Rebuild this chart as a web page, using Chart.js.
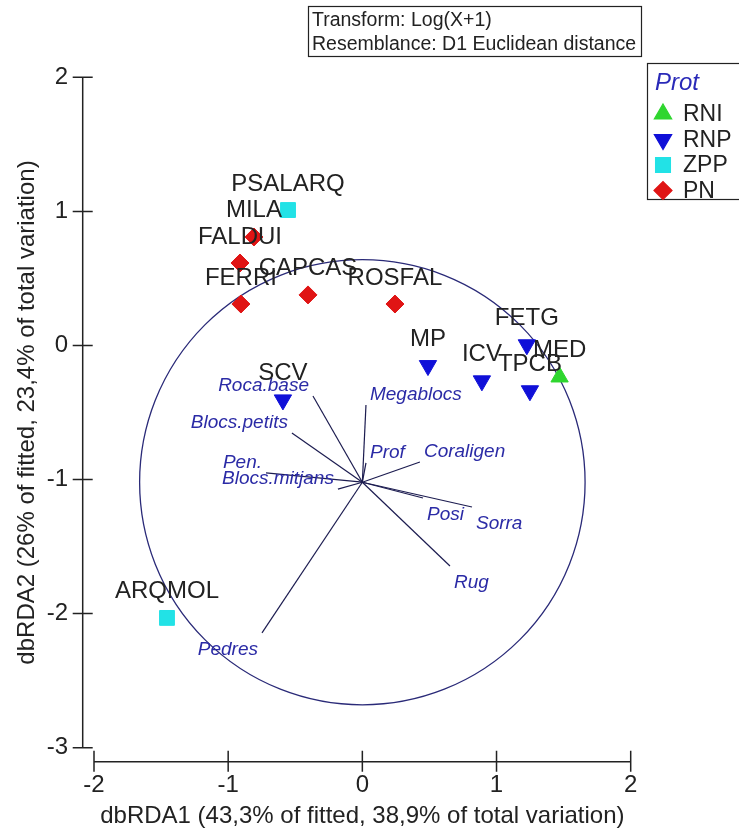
<!DOCTYPE html>
<html>
<head>
<meta charset="utf-8">
<script src="https://cdn.jsdelivr.net/npm/chart.js@4.4.1/dist/chart.umd.min.js"></script>
<style>
  html, body { margin: 0; padding: 0; background: #ffffff; }
  canvas { display: block; }
</style>
</head>
<body>
<canvas id="c" width="739" height="832"></canvas>
<script>
const FONT = '"Liberation Sans", Arial, sans-serif';

// Axes
const xRange = [-2, 2];
const yRange = [-3, 2];
const xTitle = 'dbRDA1 (43,3% of fitted, 38,9% of total variation)';
const yTitle = 'dbRDA2 (26% of fitted, 23,4% of total variation)';
const headerLines = ['Transform: Log(X+1)', 'Resemblance: D1 Euclidean distance'];
const legendTitle = 'Prot';

// Sites, grouped by protection level
const groupNames = ['RNI', 'RNP', 'ZPP', 'PN'];

const rniSites = ['MED'];
const rniX = [1.47];
const rniY = [-0.235];

const rnpSites = ['FETG', 'MP', 'ICV', 'TPCB', 'SCV'];
const rnpX = [1.226, 0.489, 0.891, 1.249, -0.592];
const rnpY = [0.005, -0.15, -0.264, -0.338, -0.406];

const zppSites = ['PSALARQ', 'ARQMOL'];
const zppX = [-0.554, -1.456];
const zppY = [1.01, -2.032];

const pnSites = ['MILA', 'FALDUI', 'FERRI', 'CAPCAS', 'ROSFAL'];
const pnX = [-0.808, -0.912, -0.905, -0.405, 0.243];
const pnY = [0.809, 0.615, 0.309, 0.377, 0.309];

// Predictor vectors (tips), drawn from a common origin
const vecNames = ['Roca.base', 'Blocs.petits', 'Pen.', 'Blocs.mitjans', 'Pedres',
                  'Megablocs', 'Prof', 'Coraligen', 'Posi', 'Sorra', 'Rug'];
const vecX = [-0.368, -0.525, -0.718, -0.182, -0.748, 0.027, 0.027, 0.429, 0.452, 0.817, 0.653];
const vecY = [-0.377, -0.653, -0.951, -1.071, -2.144, -0.444, -0.875, -0.869, -1.138, -1.205, -1.645];
const vecOrigin = [0, -1.02];
const circleRadius = 1.66;

function toPoints(xs, ys) { return xs.map((v, i) => ({ x: v, y: ys[i] })); }

const siteDatasets = [
  { label: groupNames[0], sites: rniSites, data: toPoints(rniX, rniY), pointStyle: 'triangle', rotation: 0,
    pointRadius: 10, backgroundColor: '#2fd62f', borderColor: '#2fd62f' },
  { label: groupNames[1], sites: rnpSites, data: toPoints(rnpX, rnpY), pointStyle: 'triangle', rotation: 180,
    pointRadius: 10, backgroundColor: '#1010d8', borderColor: '#1010d8' },
  { label: groupNames[2], sites: zppSites, data: toPoints(zppX, zppY), pointStyle: 'rect', rotation: 0,
    pointRadius: 10.5, backgroundColor: '#22e2e6', borderColor: '#22e2e6' },
  { label: groupNames[3], sites: pnSites, data: toPoints(pnX, pnY), pointStyle: 'rectRot', rotation: 0,
    pointRadius: 9, backgroundColor: '#e01414', borderColor: '#e01414' }
].map(d => Object.assign({ type: 'scatter', borderWidth: 1, pointHoverRadius: d.pointRadius, order: 0 }, d));

const vectorDatasets = vecNames.map((name, i) => ({
  type: 'line',
  vecLabel: name,
  data: [{ x: vecOrigin[0], y: vecOrigin[1] }, { x: vecX[i], y: vecY[i] }],
  borderColor: '#1c1c50',
  borderWidth: 1.2,
  pointRadius: 0,
  fill: false,
  tension: 0,
  order: 1
}));

const overlay = {
  id: 'overlay',
  beforeDatasetsDraw(chart) {
    const { ctx, scales: { x, y } } = chart;
    // correlation circle
    const cx = x.getPixelForValue(vecOrigin[0]);
    const cy = y.getPixelForValue(vecOrigin[1]);
    const rx = Math.abs(x.getPixelForValue(vecOrigin[0] + circleRadius) - cx);
    const ry = Math.abs(y.getPixelForValue(vecOrigin[1] + circleRadius) - cy);
    ctx.save();
    ctx.strokeStyle = '#2a2a78';
    ctx.lineWidth = 1.3;
    ctx.beginPath();
    ctx.ellipse(cx, cy, rx, ry, 0, 0, Math.PI * 2);
    ctx.stroke();
    ctx.restore();
  },
  afterDatasetsDraw(chart) {
    const { ctx, chartArea, scales: { x, y } } = chart;
    ctx.save();

    // axis lines with crossing ticks, set apart from the plotting region
    ctx.strokeStyle = '#222';
    ctx.lineWidth = 1.5;
    const ax = chartArea.left - 11.3;
    const ay = chartArea.bottom + 14;
    ctx.beginPath();
    ctx.moveTo(ax, y.getPixelForValue(yRange[1]));
    ctx.lineTo(ax, y.getPixelForValue(yRange[0]));
    y.ticks.forEach(t => {
      const py = y.getPixelForValue(t.value);
      ctx.moveTo(ax - 10, py); ctx.lineTo(ax + 10, py);
    });
    ctx.moveTo(x.getPixelForValue(xRange[0]), ay);
    ctx.lineTo(x.getPixelForValue(xRange[1]), ay);
    x.ticks.forEach(t => {
      const px = x.getPixelForValue(t.value);
      ctx.moveTo(px, ay - 11); ctx.lineTo(px, ay + 10);
    });
    ctx.stroke();

    // vector labels at the tips
    ctx.font = 'italic 19px ' + FONT;
    ctx.fillStyle = '#2b2ba6';
    chart.data.datasets.forEach((ds, i) => {
      if (!ds.vecLabel) return;
      const pts = chart.getDatasetMeta(i).data;
      const o = pts[0], t = pts[1];
      const right = t.x >= o.x;
      const above = t.y <= o.y + 8;
      ctx.textAlign = right ? 'left' : 'right';
      ctx.textBaseline = above ? 'bottom' : 'top';
      ctx.fillText(ds.vecLabel, t.x + (right ? 4 : -4), t.y + (above ? -1 : 7));
    });

    // site labels above the symbols
    ctx.font = '24px ' + FONT;
    ctx.fillStyle = '#222';
    ctx.textAlign = 'center';
    ctx.textBaseline = 'alphabetic';
    chart.data.datasets.forEach((ds, i) => {
      if (!ds.sites) return;
      chart.getDatasetMeta(i).data.forEach((el, j) => {
        ctx.fillText(ds.sites[j], el.x, el.y - 19.5);
      });
    });

    // header box
    ctx.lineWidth = 1.2;
    ctx.strokeStyle = '#222';
    ctx.strokeRect(308.5, 6.5, 333, 50);
    ctx.font = '19.5px ' + FONT;
    ctx.textAlign = 'left';
    ctx.fillText(headerLines[0], 312, 26);
    ctx.fillText(headerLines[1], 312, 50);

    // legend
    ctx.strokeRect(647.5, 63.5, 100, 136);
    ctx.font = 'italic 24px ' + FONT;
    ctx.fillStyle = '#2a2ab8';
    ctx.textAlign = 'center';
    ctx.fillText(legendTitle, 677, 90);
    ctx.font = '23px ' + FONT;
    ctx.textAlign = 'left';
    ctx.textBaseline = 'middle';
    chart.data.datasets.filter(ds => ds.sites).forEach((ds, k) => {
      const ly = 114 + k * 25.5;
      const opts = {
        pointStyle: ds.pointStyle, rotation: ds.rotation, radius: ds.pointRadius,
        borderWidth: 1
      };
      ctx.fillStyle = ds.backgroundColor;
      ctx.strokeStyle = ds.borderColor;
      Chart.helpers.drawPoint(ctx, opts, 663, ly);
      ctx.fillStyle = '#222';
      ctx.fillText(ds.label, 683, ly + 1);
    });

    ctx.restore();
  }
};

new Chart(document.getElementById('c'), {
  type: 'scatter',
  data: { datasets: [...vectorDatasets, ...siteDatasets] },
  options: {
    responsive: false,
    animation: false,
    events: [],
    layout: { padding: { top: 77.3, right: 108.3, left: 0, bottom: 0 } },
    plugins: { legend: { display: false }, tooltip: { enabled: false } },
    scales: {
      x: {
        type: 'linear', min: xRange[0], max: xRange[1],
        grid: { display: false }, border: { display: false },
        ticks: { stepSize: 1, padding: 15, color: '#222', font: { family: FONT, size: 24 } },
        title: { display: true, text: xTitle, color: '#222', font: { family: FONT, size: 24, lineHeight: 1.2 },
                 padding: { top: 0, bottom: 1 } },
        afterFit(s) { s.height = 84.3; }
      },
      y: {
        type: 'linear', min: yRange[0], max: yRange[1],
        grid: { display: false }, border: { display: false },
        ticks: { stepSize: 1, padding: 18, color: '#222', font: { family: FONT, size: 24 } },
        title: { display: true, text: yTitle, color: '#222', font: { family: FONT, size: 24, lineHeight: 1.2 },
                 padding: { top: 13, bottom: 0 } },
        afterFit(s) { s.width = 94; }
      }
    }
  },
  plugins: [overlay]
});
</script>
</body>
</html>
